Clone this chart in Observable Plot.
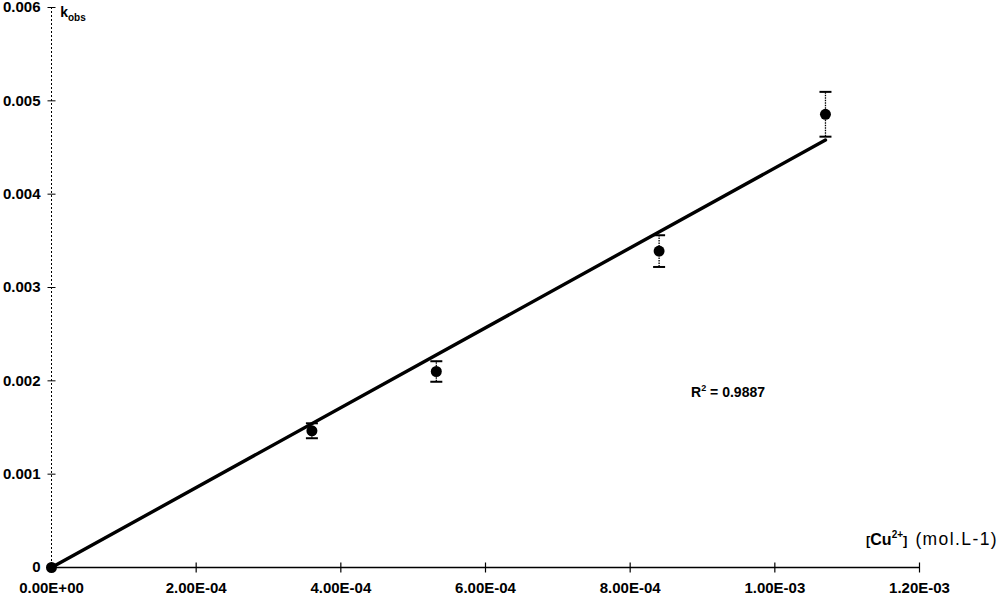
<!DOCTYPE html>
<html>
<head>
<meta charset="utf-8">
<script src="https://cdn.jsdelivr.net/npm/d3@7"></script>
<script src="https://cdn.jsdelivr.net/npm/@observablehq/plot@0.6"></script>
<style>
  html, body { margin: 0; padding: 0; background: #fff; }
  svg { display: block; }
</style>
</head>
<body>
<div id="chart"></div>
<script>
// Data
const cuConc = [0, 0.00036, 0.000532, 0.00084, 0.00107];      // [Cu2+] (mol.L-1)
const kobs   = [0, 0.001465, 0.0021, 0.00339, 0.004856];     // k_obs
const kErr   = [0, 0.00008, 0.00011, 0.00017, 0.00024];      // error bar half-widths
const fitX   = [0, 0.00107];                                 // trend line through origin
const fitY   = [0, 0.00458];
const xTicks = [0, 0.0002, 0.0004, 0.0006, 0.0008, 0.001, 0.0012];
const yTicks = [0, 0.001, 0.002, 0.003, 0.004, 0.005, 0.006];
const r2Label = "0.9887";

const points = cuConc.map((x, i) => ({x, y: kobs[i], lo: kobs[i] - kErr[i], hi: kobs[i] + kErr[i], err: kErr[i]}));
const errPoints = points.filter(d => d.err > 0);
const fit = fitX.map((x, i) => ({x, y: fitY[i]}));

const fmtX = d => {
  const [m, e] = d.toExponential(2).split("e");
  return `${m}E${e[0]}${e.slice(1).padStart(2, "0")}`;
};
const fmtY = d => d === 0 ? "0" : d.toFixed(3);

// custom line symbols: half-length equals r
const hLine = {draw(ctx, size) { const r = Math.sqrt(size / Math.PI); ctx.moveTo(-r, 0); ctx.lineTo(r, 0); }};
const vLine = {draw(ctx, size) { const r = Math.sqrt(size / Math.PI); ctx.moveTo(0, -r); ctx.lineTo(0, r); }};

const font = "'Liberation Sans', Arial, Helvetica, sans-serif";

const chart = Plot.plot({
  width: 1000,
  height: 597,
  marginLeft: 51,
  marginRight: 81,
  marginTop: 7,
  marginBottom: 30,
  style: {fontFamily: font, fontSize: "15px", color: "#000", background: "#fff", overflow: "visible"},
  x: {domain: [0, 0.0012], ticks: xTicks},
  y: {domain: [0, 0.006], ticks: yTicks},
  marks: [
    Plot.ruleX([0], {stroke: "#000", strokeWidth: 1, strokeDasharray: "2,2"}),
    Plot.ruleY([0], {stroke: "#000", strokeWidth: 1.3}),
    Plot.dot(yTicks, {x: () => 0, y: d => d, symbol: hLine, r: 4, stroke: "#000", strokeWidth: 1, fill: "none"}),
    Plot.dot(xTicks, {x: d => d, y: () => 0, symbol: vLine, r: 5, stroke: "#000", strokeWidth: 1.2, fill: "none"}),
    Plot.axisY({ticks: yTicks, tickSize: 0, tickPadding: 11, tickFormat: fmtY, fontWeight: "bold", fontSize: 15, label: null}),
    Plot.axisX({ticks: xTicks, tickSize: 0, tickPadding: 15, tickFormat: fmtX, fontWeight: "bold", fontSize: 15, label: null}),
    Plot.line(fit, {x: "x", y: "y", stroke: "#000", strokeWidth: 3.4}),
    Plot.ruleX(errPoints, {x: "x", y1: "lo", y2: "hi", stroke: "#000", strokeWidth: 1.3, strokeDasharray: "1.5,1"}),
    Plot.dot(errPoints, {x: "x", y: "lo", symbol: hLine, r: 6, stroke: "#000", strokeWidth: 2, fill: "none"}),
    Plot.dot(errPoints, {x: "x", y: "hi", symbol: hLine, r: 6, stroke: "#000", strokeWidth: 2, fill: "none"}),
    Plot.dot(points, {x: "x", y: "y", r: 5.5, fill: "#000", stroke: "none"})
  ]
});

document.getElementById("chart").appendChild(chart);

// rich-text labels (sub/superscripts) placed with the chart's own scales
const svg = d3.select(chart);
const xs = chart.scale("x"), ys = chart.scale("y");

const kLab = svg.append("text")
  .attr("x", xs.apply(0) + 22).attr("y", ys.apply(0.006) + 10)
  .attr("font-family", font).attr("font-weight", "bold").attr("font-size", 14).attr("fill", "#000");
kLab.append("tspan").text("k");
kLab.append("tspan").attr("font-size", 10).attr("dy", 4).text("obs");

const rLab = svg.append("text")
  .attr("x", xs.apply(0.000936)).attr("y", ys.apply(0.00182))
  .attr("text-anchor", "middle")
  .attr("font-family", font).attr("font-weight", "bold").attr("font-size", 14).attr("fill", "#000");
rLab.append("tspan").text("R");
rLab.append("tspan").attr("font-size", 9).attr("dy", -6).text("2");
rLab.append("tspan").attr("dy", 6).text(" = " + r2Label);

const cLab = svg.append("text")
  .attr("x", 998).attr("y", ys.apply(0) - 22)
  .attr("text-anchor", "end")
  .attr("font-family", font).attr("font-size", 16).attr("fill", "#000");
cLab.append("tspan").attr("font-weight", "bold").attr("font-size", 13).text("[");
cLab.append("tspan").attr("font-weight", "bold").attr("font-size", 16).text("Cu");
cLab.append("tspan").attr("font-weight", "bold").attr("font-size", 10).attr("dy", -7).text("2+");
cLab.append("tspan").attr("font-weight", "bold").attr("font-size", 13).attr("dy", 7).text("]");
cLab.append("tspan").attr("dx", 8).attr("font-size", 17.5).attr("letter-spacing", 1.4).text("(mol.L-1)");
</script>
</body>
</html>
